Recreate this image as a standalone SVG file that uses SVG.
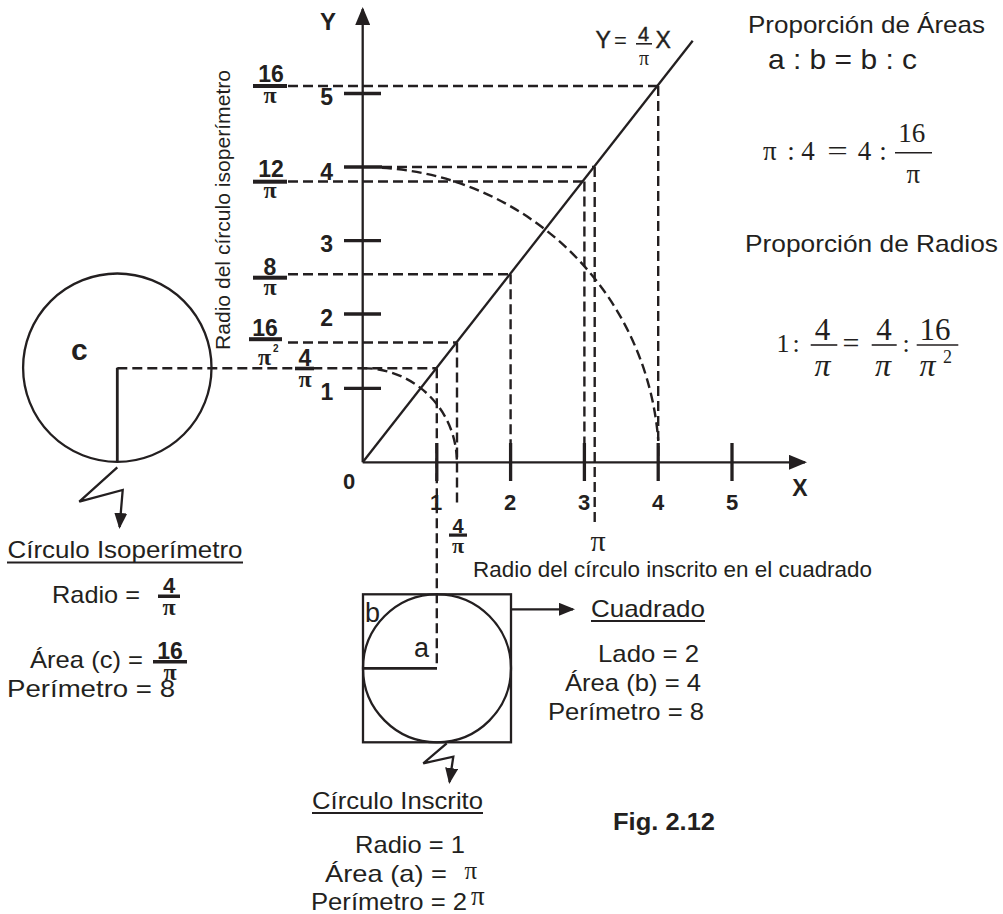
<svg xmlns="http://www.w3.org/2000/svg" width="1003" height="914" viewBox="0 0 1003 914">
<style>
.ln{stroke:#231f20;fill:none;stroke-width:2.3}
.th{stroke:#231f20;fill:none;stroke-width:3.3}
.ds{stroke:#231f20;fill:none;stroke-width:2.4;stroke-dasharray:10 5}
.bar{fill:#231f20}
.t{font-family:"Liberation Sans",Arial,sans-serif;fill:#231f20}
.b{font-weight:bold}
.m{text-anchor:middle}
.s{font-family:"Liberation Serif","Times New Roman",serif;fill:#231f20}
.i{font-style:italic}
.ul{stroke:#231f20;stroke-width:1.8}
</style>
<defs>
<marker id="arrBig" viewBox="0 0 18 15" markerWidth="18" markerHeight="15" refX="16" refY="7.5" orient="auto" markerUnits="userSpaceOnUse"><path d="M0,0 L18,7.5 L0,15 z" fill="#231f20"/></marker>
<marker id="arrSmall" viewBox="0 0 16 13" markerWidth="16" markerHeight="13" refX="14" refY="6.5" orient="auto" markerUnits="userSpaceOnUse"><path d="M0,0 L16,6.5 L0,13 z" fill="#231f20"/></marker>
</defs>
<rect width="1003" height="914" fill="#ffffff"/>

<g id="axes">
<line class="ln" x1="362.7" y1="462.3" x2="362.7" y2="9"  marker-end="url(#arrBig)"/>
<line class="ln" x1="362.7" y1="462.3" x2="805" y2="462.3" marker-end="url(#arrBig)"/>
<g class="th">
<line x1="344" y1="93.5" x2="381" y2="93.5"/>
<line x1="344" y1="167" x2="382" y2="167"/>
<line x1="344" y1="240.7" x2="381" y2="240.7"/>
<line x1="344" y1="314" x2="381" y2="314"/>
<line x1="344" y1="388.3" x2="381" y2="388.3"/>
<line x1="436.8" y1="443" x2="436.8" y2="481"/>
<line x1="510.6" y1="443" x2="510.6" y2="481"/>
<line x1="584.4" y1="443" x2="584.4" y2="481"/>
<line x1="658.2" y1="443" x2="658.2" y2="481"/>
<line x1="732" y1="443" x2="732" y2="481"/>
</g>
<text class="t b m" x="328" y="30" font-size="24">Y</text>
<text class="t b m" x="800" y="496" font-size="23">X</text>
<g class="t b m" font-size="23">
<text x="326.7" y="105">5</text>
<text x="326.7" y="180">4</text>
<text x="326.7" y="251.7">3</text>
<text x="326.7" y="325.5">2</text>
<text x="327" y="400">1</text>
</g>
<g class="t b m" font-size="22">
<text x="349" y="489">0</text>
<text x="436" y="510">1</text>
<text x="510" y="510">2</text>
<text x="584" y="510">3</text>
<text x="658" y="510">4</text>
<text x="732" y="510">5</text>
</g>
</g>

<g id="line-y-4-pi-x">
<line class="ln" x1="362.7" y1="462.3" x2="692.7" y2="40.7"/>
<text class="t" x="595.5" y="48.3" font-size="23" stroke="#231f20" stroke-width="0.4">Y</text>
<text class="t" x="614" y="48.3" font-size="22">=</text>
<text class="t m" x="643.5" y="41" font-size="20" stroke="#231f20" stroke-width="0.4">4</text>
<line class="ul" x1="636" y1="43.8" x2="652" y2="43.8" style="stroke-width:1.6"/>
<text class="s m" x="644" y="65" font-size="20">π</text>
<text class="t" x="655.5" y="48.3" font-size="23" stroke="#231f20" stroke-width="0.4">X</text>
</g>

<g id="y-labels">
<g class="t b m" font-size="23">
<text x="271" y="81.5">16</text>
<text x="271" y="176.5">12</text>
<text x="270" y="274.5">8</text>
<text x="265" y="335.5">16</text>
<text x="305" y="366">4</text>
</g>
<rect class="bar" x="253" y="84" width="34" height="4"/>
<rect class="bar" x="253" y="179.7" width="34" height="4"/>
<rect class="bar" x="253" y="275.7" width="34" height="4"/>
<rect class="bar" x="249" y="337.2" width="33" height="4"/>
<rect class="bar" x="295" y="366.7" width="19" height="3.6"/>
<g class="s b m" font-size="24">
<text x="270" y="103">π</text>
<text x="270" y="198">π</text>
<text x="270" y="295">π</text>
<text x="264.5" y="365">π</text>
<text x="305" y="386.5">π</text>
</g>
<text class="t b" x="273" y="352" font-size="10">2</text>
<text class="t" transform="translate(230,350) rotate(-90)" x="0" y="0" font-size="21" textLength="280" lengthAdjust="spacingAndGlyphs">Radio del círculo isoperímetro</text>
</g>

<g id="x-labels">
<text class="t b m" x="458" y="533" font-size="20">4</text>
<rect class="bar" x="449" y="533.5" width="18" height="3.2"/>
<text class="s b m" x="458" y="553" font-size="22">π</text>
<text class="s m" x="598" y="551" font-size="30">π</text>
<text class="t" x="473" y="577" font-size="22" textLength="399" lengthAdjust="spacingAndGlyphs">Radio del círculo inscrito en el cuadrado</text>
</g>

<g id="connectors">
<line class="ds" x1="288" y1="86" x2="658.2" y2="86"/>
<line class="ds" x1="658.2" y1="86" x2="658.2" y2="462"/>
<line class="ds" x1="288" y1="181.5" x2="584.4" y2="181.5"/>
<line class="ds" x1="584.4" y1="181.5" x2="584.4" y2="462"/>
<line class="ds" x1="382" y1="167" x2="594.7" y2="167"/>
<line class="ds" x1="594.7" y1="167" x2="594.7" y2="527"/>
<line class="ds" x1="288" y1="274.3" x2="510.6" y2="274.3"/>
<line class="ds" x1="510.6" y1="274.3" x2="510.6" y2="462"/>
<line class="ds" x1="288" y1="342.5" x2="457" y2="342.5"/>
<line class="ds" x1="457" y1="342.5" x2="457" y2="507"/>
<line class="ds" x1="117.3" y1="368.3" x2="436.8" y2="368.3"/>
<line class="ds" x1="436.8" y1="368.3" x2="436.8" y2="668.3"/>
<path class="ds" d="M362.7,368.1 A94.2,94.2 0 0 1 456.9,462.3"/>
<path class="ds" d="M382,167.7 A295.5,295.5 0 0 1 658.2,440"/>
<polyline class="ln" points="117.3,467.3 79.3,501.7 122.7,490 119.6,527" marker-end="url(#arrSmall)"/>
<polyline class="ln" points="446.7,743.3 423.3,763.3 453.3,756.7 449.5,782" marker-end="url(#arrSmall)"/>
<line class="ln" x1="511" y1="609.3" x2="573" y2="609.3" marker-end="url(#arrSmall)"/>
</g>

<g id="circle-isoperimetro">
<circle class="ln" cx="117.3" cy="367.7" r="94.2"/>
<line class="ln" x1="117.3" y1="367.7" x2="117.3" y2="462" style="stroke-width:2.8"/>
<text class="t b" x="71" y="360" font-size="30">c</text>
<text class="t" x="7.5" y="558" font-size="24" textLength="235" lengthAdjust="spacingAndGlyphs">Círculo Isoperímetro</text>
<line class="ul" x1="7" y1="562.5" x2="243" y2="562.5"/>
<text class="t" x="52" y="603" font-size="24" textLength="88" lengthAdjust="spacingAndGlyphs">Radio =</text>
<text class="t b m" x="169" y="593" font-size="22">4</text>
<rect class="bar" x="158" y="594.5" width="22" height="3.5"/>
<text class="s b m" x="169" y="615" font-size="24">π</text>
<text class="t" x="30" y="668" font-size="24" textLength="113" lengthAdjust="spacingAndGlyphs">Área (c) =</text>
<text class="t b m" x="170" y="659" font-size="23">16</text>
<rect class="bar" x="153" y="660" width="34" height="3.5"/>
<text class="s b m" x="170" y="680" font-size="24">π</text>
<text class="t" x="7" y="697" font-size="24" textLength="168" lengthAdjust="spacingAndGlyphs">Perímetro = 8</text>
</g>

<g id="cuadrado">
<rect class="ln" x="363" y="594.3" width="148" height="148"/>
<circle class="ln" cx="437" cy="668.3" r="74"/>
<line class="ln" x1="363" y1="668.3" x2="437" y2="668.3" style="stroke-width:2.8"/>
<text class="t" x="365" y="621.5" font-size="27">b</text>
<text class="t" x="414" y="657.3" font-size="27">a</text>
<text class="t" x="591" y="617" font-size="24" textLength="114" lengthAdjust="spacingAndGlyphs">Cuadrado</text>
<line class="ul" x1="591" y1="621" x2="705" y2="621"/>
<text class="t" x="598" y="662" font-size="24" textLength="101" lengthAdjust="spacingAndGlyphs">Lado = 2</text>
<text class="t" x="565" y="691" font-size="24" textLength="136" lengthAdjust="spacingAndGlyphs">Área (b) = 4</text>
<text class="t" x="548" y="720" font-size="24" textLength="156" lengthAdjust="spacingAndGlyphs">Perímetro = 8</text>
</g>

<g id="circulo-inscrito">
<text class="t" x="312" y="809" font-size="24" textLength="171" lengthAdjust="spacingAndGlyphs">Círculo Inscrito</text>
<line class="ul" x1="312" y1="813" x2="483" y2="813"/>
<text class="t" x="355" y="853" font-size="24" textLength="110" lengthAdjust="spacingAndGlyphs">Radio = 1</text>
<text class="t" x="325" y="882" font-size="24" textLength="122" lengthAdjust="spacingAndGlyphs">Área (a)  =</text>
<text class="s" x="464.5" y="879" font-size="25">π</text>
<text class="t" x="311" y="910" font-size="24" textLength="156" lengthAdjust="spacingAndGlyphs">Perímetro = 2</text>
<text class="s" x="471" y="905" font-size="27">π</text>
</g>

<g id="proporcion-areas">
<text class="t" x="748" y="32.5" font-size="24" textLength="237" lengthAdjust="spacingAndGlyphs">Proporción de Áreas</text>
<text class="t" x="768" y="69" font-size="28" textLength="149" lengthAdjust="spacingAndGlyphs">a : b = b : c</text>
<g class="s m" font-size="27">
<text x="769.7" y="160">π</text>
<text x="791" y="160">:</text>
<text x="808" y="160">4</text>
<text x="837.5" y="160" transform="translate(837.5,0) scale(1.35,1) translate(-837.5,0)">=</text>
<text x="864.4" y="160">4</text>
<text x="883" y="160">:</text>
<text x="911.7" y="141.7">16</text>
<text x="913.4" y="183">π</text>
</g>
<line class="ul" x1="895" y1="152.7" x2="932" y2="152.7" style="stroke-width:1.6"/>
</g>

<g id="proporcion-radios">
<text class="t" x="745" y="251.7" font-size="24" textLength="253" lengthAdjust="spacingAndGlyphs">Proporción de Radios</text>
<g class="s m">
<text x="783" y="351.7" font-size="26">1</text>
<text x="796" y="351.7" font-size="26">:</text>
<text x="822.5" y="340" font-size="31">4</text>
<text class="i" x="822.5" y="376" font-size="32">π</text>
<text x="851" y="352.5" font-size="30">=</text>
<text x="884" y="340" font-size="31">4</text>
<text class="i" x="883" y="376" font-size="32">π</text>
<text x="906" y="351.7" font-size="26">:</text>
<text x="935" y="340" font-size="31">16</text>
<text class="i" x="927.5" y="376" font-size="32">π</text>
<text x="947.5" y="363" font-size="18">2</text>
</g>
<line class="ul" x1="810.7" y1="345" x2="837.3" y2="345" style="stroke-width:1.6"/>
<line class="ul" x1="871.7" y1="345" x2="896.7" y2="345" style="stroke-width:1.6"/>
<line class="ul" x1="916.7" y1="345" x2="958.3" y2="345" style="stroke-width:1.6"/>
</g>

<text class="t b" x="613" y="830" font-size="24" textLength="102" lengthAdjust="spacingAndGlyphs">Fig. 2.12</text>
</svg>
